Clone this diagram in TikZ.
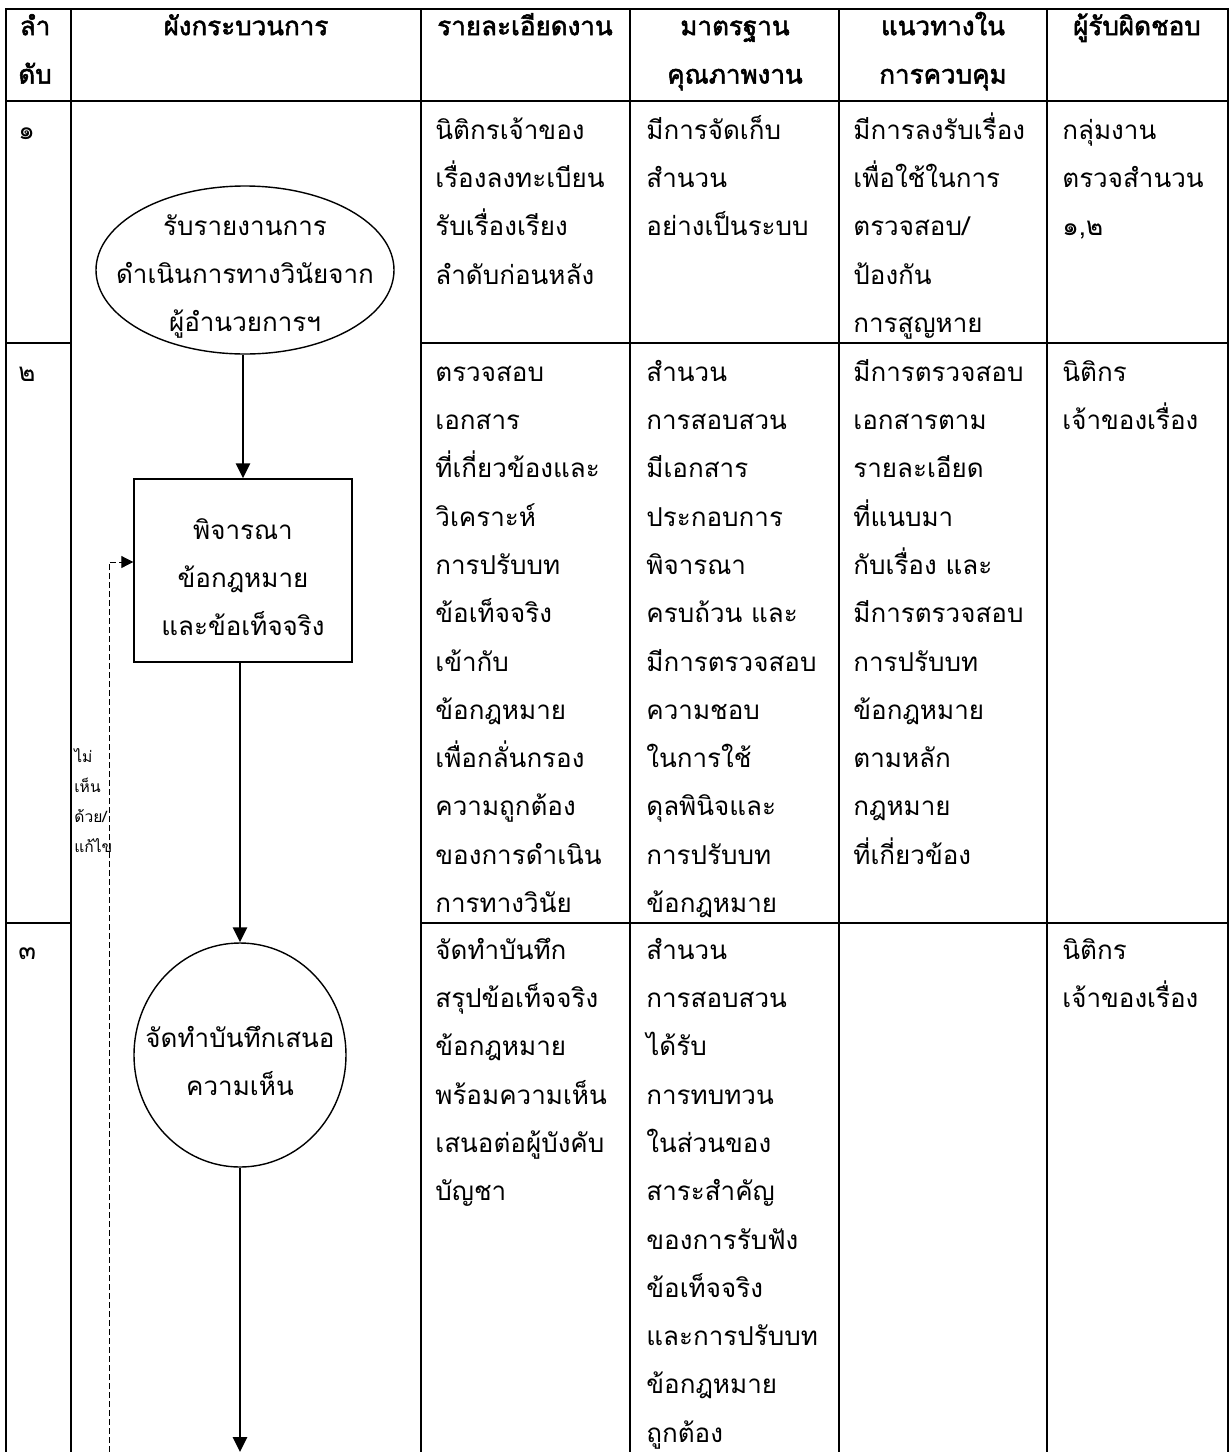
\documentclass[tikz,border=0pt]{standalone}
\usepackage{fontspec}
\setmainfont[Script=Thai,AutoFakeBold=2]{Loma}
\usetikzlibrary{shapes.geometric,arrows.meta}
\newcommand{\bodyfont}{\fontsize{13pt}{24.15pt}\selectfont}
\newcommand{\smallfnt}{\fontsize{7.8pt}{15pt}\selectfont}
\begin{document}
\begin{tikzpicture}[x=0.5pt,y=-0.5pt,
  gridline/.style={line width=1pt,line cap=rect},
  hd/.style={font=\bodyfont\bfseries,inner sep=0pt,align=center,anchor=north},
  cell/.style={font=\bodyfont,inner sep=0pt,align=left,anchor=north west},
  flowshape/.style={draw,line width=0.7pt,inner sep=0pt},
  flowtext/.style={font=\bodyfont,inner sep=0pt,align=center},
  flowarrow/.style={line width=1.3pt,-{Triangle[length=7.5pt,width=7pt]}},
  backarrow/.style={line width=0.5pt,dash pattern=on 3pt off 1.5pt,-{Triangle[length=6pt,width=6pt]}},
  lbl/.style={font=\smallfnt,inner sep=0pt,align=left,anchor=north west}]
\useasboundingbox (0,0) rectangle (1230,1452);
\fill[white] (0,0) rectangle (1230,1452);
% ---------- table grid ----------
\foreach \x in {6,71,421,630,839,1047,1228} \draw[gridline] (\x,9) -- (\x,1452);
\draw[gridline] (6,9) -- (1228,9);
\draw[gridline] (6,101) -- (1228,101);
\foreach \y in {343,923} {
  \draw[gridline] (6,\y) -- (71,\y);
  \draw[gridline] (421,\y) -- (1228,\y);
}
% ---------- header ----------
\node[hd,anchor=north west] (hA) at (18,1) {\strut ลำ\\ดับ};
\node[hd] (hB) at (246,1) {\strut ผังกระบวนการ};
\node[hd] (hC) at (525,1) {\strut รายละเอียดงาน};
\node[hd] (hD) at (735,1) {\strut มาตรฐาน\\คุณภาพงาน};
\node[hd] (hE) at (943,1) {\strut แนวทางใน\\การควบคุม};
\node[hd] (hF) at (1137,1) {\strut ผู้รับผิดชอบ};
% ---------- row 1 ----------
\node[cell] (n1) at (18,105) {\strut ๑};
\node[cell] (a1) at (435,105) {\strut นิติกรเจ้าของ\\เรื่องลงทะเบียน\\รับเรื่องเรียง\\ลำดับก่อนหลัง};
\node[cell] (b1) at (646,105) {\strut มีการจัดเก็บ\\สำนวน\\อย่างเป็นระบบ};
\node[cell] (c1) at (853,105) {\strut มีการลงรับเรื่อง\\เพื่อใช้ในการ\\ตรวจสอบ/\\ป้องกัน\\การสูญหาย};
\node[cell] (d1) at (1062,105) {\strut กลุ่มงาน\\ตรวจสำนวน\\๑,๒};
% ---------- row 2 ----------
\node[cell] (n2) at (18,347) {\strut ๒};
\node[cell] (a2) at (435,347) {\strut ตรวจสอบ\\เอกสาร\\ที่เกี่ยวข้องและ\\วิเคราะห์\\การปรับบท\\ข้อเท็จจริง\\เข้ากับ\\ข้อกฎหมาย\\เพื่อกลั่นกรอง\\ความถูกต้อง\\ของการดำเนิน\\การทางวินัย};
\node[cell] (b2) at (646,347) {\strut สำนวน\\การสอบสวน\\มีเอกสาร\\ประกอบการ\\พิจารณา\\ครบถ้วน และ\\มีการตรวจสอบ\\ความชอบ\\ในการใช้\\ดุลพินิจและ\\การปรับบท\\ข้อกฎหมาย};
\node[cell] (c2) at (853,347) {\strut มีการตรวจสอบ\\เอกสารตาม\\รายละเอียด\\ที่แนบมา\\กับเรื่อง และ\\มีการตรวจสอบ\\การปรับบท\\ข้อกฎหมาย\\ตามหลัก\\กฎหมาย\\ที่เกี่ยวข้อง};
\node[cell] (d2) at (1062,347) {\strut นิติกร\\เจ้าของเรื่อง};
% ---------- row 3 ----------
\node[cell] (n3) at (18,925) {\strut ๓};
\node[cell] (a3) at (435,925) {\strut จัดทำบันทึก\\สรุปข้อเท็จจริง\\ข้อกฎหมาย\\พร้อมความเห็น\\เสนอต่อผู้บังคับ\\บัญชา};
\node[cell] (b3) at (646,925) {\strut สำนวน\\การสอบสวน\\ได้รับ\\การทบทวน\\ในส่วนของ\\สาระสำคัญ\\ของการรับฟัง\\ข้อเท็จจริง\\และการปรับบท\\ข้อกฎหมาย\\ถูกต้อง};
\node[cell] (d3) at (1062,925) {\strut นิติกร\\เจ้าของเรื่อง};
% ---------- flow chart ----------
\node[flowshape,ellipse,minimum width=149pt,minimum height=84pt] (start) at (245,270) {};
\node[flowtext] (starttext) at (start.center) {\strut รับรายงานการ\\ดำเนินการทางวินัยจาก\\ผู้อำนวยการฯ};
\node[flowshape,rectangle,minimum width=109pt,minimum height=91.5pt] (consider) at (243,570.5) {};
\node[flowtext] (considertext) at (consider.center) {\strut พิจารณา\\ข้อกฎหมาย\\และข้อเท็จจริง};
\node[flowshape,ellipse,minimum width=106pt,minimum height=112pt] (memo) at (240,1055) {};
\node[flowtext] (memotext) at (memo.center) {\strut จัดทำบันทึกเสนอ\\ความเห็น};
\coordinate (flowend) at (240,1452);
\coordinate (fbbottom) at (109,1452);
\coordinate (fbturn) at (109,562);
\draw[flowarrow] (start.south -| consider.north) -- (consider.north);
\draw[flowarrow] (consider.south -| memo.north) -- (memo.north);
\draw[flowarrow] (memo.south) -- (flowend);
\draw[backarrow] (fbbottom) -- (fbturn) -- (fbturn -| consider.west);
\node[lbl] (nolbl) at (74,741) {\strut ไม่\\เห็น\\ด้วย/\\แก้ไข};
\end{tikzpicture}
\end{document}
